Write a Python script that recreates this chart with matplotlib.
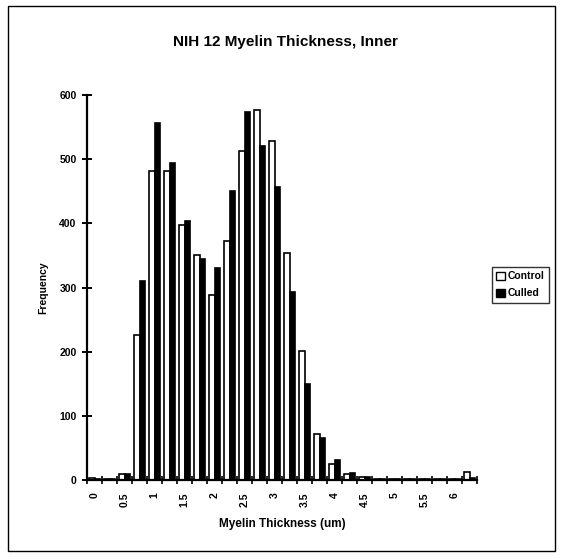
import matplotlib
matplotlib.use("Agg")
import matplotlib.pyplot as plt
from matplotlib.patches import Rectangle, Patch
import numpy as np

plt.rcParams['font.family'] = ['Liberation Sans', 'DejaVu Sans']
plt.rcParams['font.weight'] = 'bold'

# Thickness bins (um), step 0.25
bins = [0, 0.25, 0.5, 0.75, 1.0, 1.25, 1.5, 1.75, 2.0, 2.25, 2.5, 2.75, 3.0,
        3.25, 3.5, 3.75, 4.0, 4.25, 4.5, 4.75, 5.0, 5.25, 5.5, 5.75, 6.0, 6.25]
control = [3, 2, 10, 226, 482, 481, 398, 350, 289, 373, 513, 576, 528,
           354, 201, 72, 25, 9, 5, 2, 2, 2, 1, 1, 1, 13]
culled = [2, 1, 10, 310, 556, 494, 404, 344, 331, 450, 574, 520, 457,
          293, 149, 65, 31, 11, 4, 2, 2, 2, 1, 1, 1, 3]
tick_labels = ['0', '0.5', '1', '1.5', '2', '2.5', '3', '3.5', '4', '4.5',
               '5', '5.5', '6']

W, H = 563, 558
fig = plt.figure(figsize=(W / 100, H / 100), dpi=100)
fig.patch.set_facecolor('white')

# outer chart frame
fig.add_artist(Rectangle((8 / W, 1 - 551 / H), (555 - 8) / W, (551 - 6) / H,
                         transform=fig.transFigure, fill=False,
                         edgecolor='black', linewidth=1.0))

ax = fig.add_axes([87 / W, 1 - 480 / H, 390 / W, 385 / H])
x = np.arange(len(bins))
bw = 0.39
ax.bar(x - bw / 2, control, width=bw, color='white', edgecolor='black',
       linewidth=1.2, label='Control')
ax.bar(x + bw / 2, culled, width=bw, color='black', edgecolor='black',
       linewidth=1.2, label='Culled')

ax.set_xlim(-0.5, len(bins) - 0.5)
ax.set_ylim(0, 600)
for s in ['top', 'right']:
    ax.spines[s].set_visible(False)
for s in ['left', 'bottom']:
    ax.spines[s].set_linewidth(1.6)

ax.set_yticks(np.arange(0, 601, 100))
ax.tick_params(axis='y', direction='inout', length=7, width=1.4,
               labelsize=7.5, pad=4)
for lbl in ax.get_yticklabels():
    lbl.set_fontweight('bold')

# tick marks between bins, labels on every other bin
ax.set_xticks(np.arange(-0.5, len(bins), 1.0))
ax.set_xticklabels([])
ax.tick_params(axis='x', which='major', direction='inout', length=6,
               width=1.2)
ax.set_xticks(np.arange(0, len(bins), 2), minor=True)
ax.set_xticklabels(tick_labels, minor=True, rotation=90, fontsize=7.5,
                   fontweight='bold')
ax.tick_params(axis='x', which='minor', length=0, pad=9)

ax.set_xlabel('Myelin Thickness (um)', fontsize=8.5, fontweight='bold',
              labelpad=8)
ax.set_ylabel('Frequency', fontsize=7.5, fontweight='bold')
ax.yaxis.set_label_coords(-0.10, 0.5)

fig.text(285 / W, 1 - 42 / H, 'NIH 12 Myelin Thickness, Inner',
         ha='center', va='center', fontsize=11, fontweight='bold')

handles = [Patch(facecolor='white', edgecolor='black', linewidth=1.0,
                 label='Control'),
           Patch(facecolor='black', edgecolor='black', label='Culled')]
leg = fig.legend(handles=handles, loc='upper left',
                 bbox_to_anchor=(492 / W, 1 - 267 / H),
                 bbox_transform=fig.transFigure, frameon=True,
                 fancybox=False, fontsize=7.5, handlelength=0.8,
                 handleheight=0.8, handletextpad=0.3, borderpad=0.4,
                 labelspacing=0.7, borderaxespad=0)
leg.get_frame().set_edgecolor('black')
leg.get_frame().set_linewidth(1.0)
for t in leg.get_texts():
    t.set_fontweight('bold')

fig.savefig('out.png', dpi=100)
